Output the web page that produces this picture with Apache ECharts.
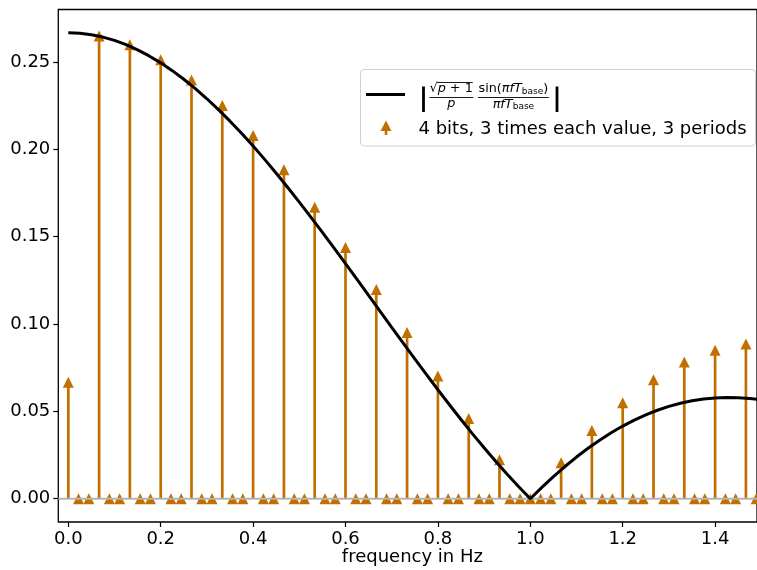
<!DOCTYPE html>
<html><head><meta charset="utf-8">
<script src="https://cdn.jsdelivr.net/npm/echarts@6/dist/echarts.min.js"></script>
<style>html,body{margin:0;padding:0;background:#fff}#c{width:757px;height:570px}</style>
</head><body><div id="c"></div>
<script>
// ---- data ----
const stemFreq = [0,0.0222,0.0444,0.0667,0.0889,0.1111,0.1333,0.1556,0.1778,0.2,0.2222,0.2444,0.2667,0.2889,0.3111,0.3333,0.3556,0.3778,0.4,0.4222,0.4444,0.4667,0.4889,0.5111,0.5333,0.5556,0.5778,0.6,0.6222,0.6444,0.6667,0.6889,0.7111,0.7333,0.7556,0.7778,0.8,0.8222,0.8444,0.8667,0.8889,0.9111,0.9333,0.9556,0.9778,1.0,1.0222,1.0444,1.0667,1.0889,1.1111,1.1333,1.1556,1.1778,1.2,1.2222,1.2444,1.2667,1.2889,1.3111,1.3333,1.3556,1.3778,1.4,1.4222,1.4444,1.4667,1.4889];
const stemAmp = [0.0667,0,0,0.2649,0,0,0.2598,0,0,0.2513,0,0,0.2397,0,0,0.2251,0,0,0.2079,0,0,0.1883,0,0,0.1668,0,0,0.1438,0,0,0.1198,0,0,0.0951,0,0,0.0703,0,0,0.0459,0,0,0.0223,0,0,0,0,0,0.0206,0,0,0.0390,0,0,0.0549,0,0,0.0681,0,0,0.0782,0,0,0.0850,0,0,0.0885,0];
const curveFreq = [0,0.025,0.05,0.075,0.1,0.125,0.15,0.175,0.2,0.225,0.25,0.275,0.3,0.325,0.35,0.375,0.4,0.425,0.45,0.475,0.5,0.525,0.55,0.575,0.6,0.625,0.65,0.675,0.7,0.725,0.75,0.775,0.8,0.825,0.85,0.875,0.9,0.925,0.95,0.975,1.0,1.025,1.05,1.075,1.1,1.125,1.15,1.175,1.2,1.225,1.25,1.275,1.3,1.325,1.35,1.375,1.4,1.425,1.45,1.475,1.5];
const curveAmp = [0.26667,0.26639,0.26557,0.26421,0.26230,0.25987,0.25691,0.25343,0.24946,0.24501,0.24008,0.23471,0.22891,0.22269,0.21609,0.20912,0.20182,0.19421,0.18631,0.17815,0.16977,0.16118,0.15243,0.14354,0.13455,0.12547,0.11636,0.10722,0.09810,0.08903,0.08003,0.07113,0.06237,0.05376,0.04534,0.03712,0.02914,0.02142,0.01398,0.00683,0,0.00650,0.01265,0.01843,0.02385,0.02887,0.03351,0.03775,0.04158,0.04500,0.04802,0.05062,0.05282,0.05462,0.05602,0.05703,0.05766,0.05792,0.05782,0.05737,0.05659];
const xTicks = [0,0.2,0.4,0.6,0.8,1.0,1.2,1.4];
const yTicks = [0,0.05,0.10,0.15,0.20,0.25];
const xName = 'frequency in Hz';
const legend2 = '4 bits, 3 times each value, 3 periods';

const ORANGE = '#c17000';
const chart = echarts.init(document.getElementById('c'), null, {renderer:'canvas'});

const stemData = stemFreq.map((f,i)=>[f, stemAmp[i]]);
const curveData = curveFreq.map((f,i)=>[f, curveAmp[i]]);

// text measuring for legend math layout
const mctx = document.createElement('canvas').getContext('2d');
function tw(t, size, italic){ mctx.font = (italic?'italic ':'') + size + 'px "DejaVu Sans"'; return mctx.measureText(t).width; }
function run(segs, x, y){ // segs: [text,size,italic,dy]
  const out=[]; let cx=x;
  segs.forEach(s=>{ out.push({type:'text', x:cx, y:y+(s[3]||0), z:110, style:{text:s[0], font:(s[2]?'italic ':'')+s[1]+'px "DejaVu Sans"', fill:'#000', textVerticalAlign:'middle', verticalAlign:'middle'}}); cx+=tw(s[0],s[1],s[2]); });
  return {els:out, w:cx-x};
}
function runW(segs){ return segs.reduce((a,s)=>a+tw(s[0],s[1],s[2]),0); }
const FS=12.8, SS=9;
const g = [];
// x axis title (axes centre lies beyond the cropped right edge)
g.push({type:'text', z:110, x:412.4, y:557, style:{text:xName, font:'18px "DejaVu Sans"', fill:'#000', align:'center', textAlign:'center', textVerticalAlign:'middle', verticalAlign:'middle'}});
// legend box
g.push({type:'rect', z:100, shape:{x:360.5,y:69.5,width:395,height:76.5,r:4}, style:{fill:'rgba(255,255,255,0.8)', stroke:'#d0d0d0', lineWidth:1}});
g.push({type:'line', z:110, shape:{x1:366,y1:94.5,x2:405,y2:94.5}, style:{stroke:'#000', lineWidth:3}});
// |
g.push({type:'line', z:110, shape:{x1:423.5,y1:86.5,x2:423.5,y2:112}, style:{stroke:'#000', lineWidth:2.8}});
g.push({type:'line', z:110, shape:{x1:557,y1:86.5,x2:557,y2:112}, style:{stroke:'#000', lineWidth:2.8}});
// first fraction
const sq = run([['\u221A',FS,false]], 429.5, 88.5); sq.els.forEach(e=>g.push(e));
const num1 = run([['p',FS,true],[' + 1',FS,false]], 429.5+sq.w, 89); num1.els.forEach(e=>g.push(e));
g.push({type:'line', z:110, shape:{x1:429.5+sq.w-0.5,y1:82.5,x2:429.5+sq.w+num1.w,y2:82.5}, style:{stroke:'#000', lineWidth:0.9}});
const f1x0=429.5, f1x1=429.5+sq.w+num1.w+0.5;
g.push({type:'line', z:110, shape:{x1:f1x0,y1:97.5,x2:f1x1,y2:97.5}, style:{stroke:'#000', lineWidth:0.9}});
const den1w = tw('p',FS,true);
run([['p',FS,true]], (f1x0+f1x1)/2-den1w/2, 103.5).els.forEach(e=>g.push(e));
// second fraction
const n2 = [['sin(',FS,false],['\u03C0fT',FS,true],['base',SS,false,2.5],[')',FS,false]];
const d2 = [['\u03C0fT',FS,true],['base',SS,false,2.5]];
const f2x0 = 478.5;
const n2w = runW(n2), d2w = runW(d2);
run(n2, f2x0, 89).els.forEach(e=>g.push(e));
g.push({type:'line', z:110, shape:{x1:f2x0-0.5,y1:97.5,x2:f2x0+n2w+0.5,y2:97.5}, style:{stroke:'#000', lineWidth:0.9}});
run(d2, f2x0+n2w/2-d2w/2, 104.5).els.forEach(e=>g.push(e));
// row 2: stem legend marker
g.push({type:'line', z:110, shape:{x1:386,y1:129,x2:386,y2:135}, style:{stroke:ORANGE, lineWidth:2.6}});
g.push({type:'polygon', z:111, shape:{points:[[386,120.5],[380.5,131],[391.5,131]]}, style:{fill:ORANGE}});
g.push({type:'text', z:110, x:418.5, y:129.5, style:{text:legend2, font:'18px "DejaVu Sans"', fill:'#000', textVerticalAlign:'middle', verticalAlign:'middle'}});

const option = {
  animation:false,
  backgroundColor:'#fff',
  grid:{left:58.3, top:9.5, right:0, bottom:48, containLabel:false, outerBoundsMode:'none', show:true, borderColor:'#000', borderWidth:1.3, backgroundColor:'transparent'},
  xAxis:{type:'value', min:-0.02165, max:1.4907, splitLine:{show:false},
    axisLine:{show:false, onZero:false},
    axisTick:{show:true, length:5, lineStyle:{color:'#000', width:1.2}, customValues:xTicks},
    axisLabel:{show:true, customValues:xTicks, formatter:v=>v.toFixed(1), fontFamily:'DejaVu Sans', fontSize:18, color:'#000', margin:8.5}},
  yAxis:{type:'value', min:-0.013333, max:0.28, splitLine:{show:false},
    axisLine:{show:false, onZero:false},
    axisTick:{show:true, length:5, lineStyle:{color:'#000', width:1.2}, customValues:yTicks},
    axisLabel:{show:true, customValues:yTicks, formatter:v=>v.toFixed(2), fontFamily:'DejaVu Sans', fontSize:18, color:'#000', margin:8}},
  series:[
    {type:'custom', z:2, clip:false, data:stemData,
     renderItem:(params, api)=>{
       const x=api.value(0), y=api.value(1);
       if(!y) return null;
       const p0=api.coord([x,0]), p1=api.coord([x,y]);
       return {type:'line', shape:{x1:p0[0],y1:p0[1],x2:p1[0],y2:p1[1]}, style:{stroke:ORANGE, lineWidth:2.7}};
     }},
    {type:'scatter', z:3, clip:false, data:stemData, symbol:'triangle', symbolSize:11, itemStyle:{color:ORANGE, opacity:1}, silent:true},
    {type:'line', z:4, data:[[-0.02165,0],[1.4907,0]], symbol:'none', lineStyle:{color:'#b4b4b4', width:2}, silent:true},
    {type:'line', z:5, data:curveData, symbol:'none', smooth:false, lineStyle:{color:'#000', width:3}, silent:true}
  ],
  graphic:g
};
chart.setOption(option);
</script></body></html>
